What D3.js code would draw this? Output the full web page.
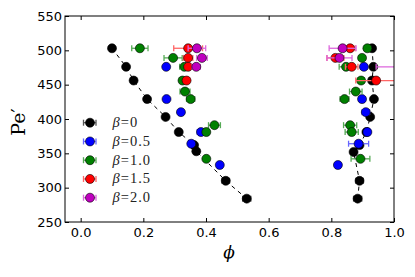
<!DOCTYPE html>
<html>
<head>
<meta charset="utf-8">
<script src="https://cdn.jsdelivr.net/npm/d3@7"></script>
<style>
  body { margin: 0; background: #fff; }
  svg { display: block; }
</style>
</head>
<body>
<div id="holder"></div>
<script>
// values: phi, Pe' and the phi error of each point
var blackLeftPhi = [0.100, 0.145, 0.169, 0.212, 0.271, 0.313, 0.362, 0.369, 0.463, 0.530];
var blackLeftPe  = [503, 476, 456, 429, 403, 381, 362, 353, 310, 284];
var blackLeftErr = [0.006, 0.006, 0.006, 0.006, 0.006, 0.006, 0.006, 0.006, 0.012, 0.013];
var blackRightPhi = [0.930, 0.934, 0.930, 0.936, 0.924, 0.912, 0.890, 0.871, 0.890, 0.884];
var blackRightPe  = [503, 476, 456, 429, 403, 381, 362, 352, 310, 284];
var blackRightErr = [0.006, 0.006, 0.006, 0.006, 0.006, 0.006, 0.006, 0.006, 0.012, 0.013];

var bluePhi = [0.273, 0.274, 0.320, 0.384, 0.353, 0.444, 0.904, 0.898, 0.910, 0.915, 0.887, 0.821];
var bluePe  = [476, 429, 410, 381, 364, 333, 476, 429, 410, 381, 364, 333];
var blueErr = [0.006, 0.006, 0.006, 0.012, 0.006, 0.006, 0.010, 0.010, 0.012, 0.008, 0.032, 0.008];

var greenPhi = [0.189, 0.295, 0.331, 0.325, 0.333, 0.351, 0.427, 0.401, 0.401,
                0.915, 0.898, 0.847, 0.895, 0.878, 0.842, 0.860, 0.865, 0.893];
var greenPe  = [503, 489, 476, 456, 440, 429, 391, 381, 342,
                503, 489, 476, 456, 440, 429, 391, 381, 342];
var greenErr = [0.026, 0.029, 0.015, 0.008, 0.016, 0.013, 0.019, 0.008, 0.008,
                0.010, 0.010, 0.022, 0.010, 0.020, 0.014, 0.021, 0.021, 0.030];

var redPhi = [0.343, 0.343, 0.343, 0.338, 0.860, 0.813, 0.865, 0.943];
var redPe  = [503, 489, 476, 456, 503, 489, 476, 456];
var redErr = [0.046, 0.015, 0.010, 0.008, 0.016, 0.027, 0.020, 0.065];

var purplePhi = [0.371, 0.387, 0.369, 0.836, 0.826, 1.060];
var purplePe  = [503, 489, 476, 503, 489, 476];
var purpleErr = [0.028, 0.017, 0.013, 0.043, 0.040, 0.117];

var betaLabels = ["0", "0.5", "1.0", "1.5", "2.0"];
var xTicks = [0.0, 0.2, 0.4, 0.6, 0.8, 1.0];
var yTicks = [250, 300, 350, 400, 450, 500, 550];

// define svg width, height, margins
var margin = {top: 16, right: 21, bottom: 55, left: 65},
    width = 415 - margin.left - margin.right,
    height = 277 - margin.top - margin.bottom;

var svg = d3.select("#holder")
            .append("svg")
            .attr("width", 415)
            .attr("height", 277);

var g = svg.append("g")
           .attr("transform", "translate(" + margin.left + "," + margin.top + ")");

var x = d3.scaleLinear().domain([-0.05, 1.0]).range([0, width]);
var y = d3.scaleLinear().domain([250, 550]).range([height, 0]);

// clip to the axes like matplotlib does
svg.append("defs").append("clipPath").attr("id", "clip")
   .append("rect").attr("width", width).attr("height", height);

// ticks pointing inward on all four sides
var tickFont = "'DejaVu Sans', sans-serif";
g.append("g")
 .attr("transform", "translate(0," + height + ")")
 .call(d3.axisBottom(x).tickValues(xTicks).tickFormat(d3.format(".1f")).tickSize(-4).tickPadding(6));
g.append("g")
 .call(d3.axisTop(x).tickValues(xTicks).tickFormat("").tickSize(-4));
g.append("g")
 .call(d3.axisLeft(y).tickValues(yTicks).tickSize(-4).tickPadding(3));
g.append("g")
 .attr("transform", "translate(" + width + ",0)")
 .call(d3.axisRight(y).tickValues(yTicks).tickFormat("").tickSize(-4));

g.selectAll(".domain").remove();
g.selectAll(".tick line").attr("stroke", "#000");
g.selectAll(".tick text")
 .attr("fill", "#000")
 .style("font-family", tickFont)
 .style("font-size", "13px");

var plot = g.append("g").attr("clip-path", "url(#clip)");

// dashed guide lines through the black points
var line = d3.line()
             .x(d => x(d[0]))
             .y(d => y(d[1]));
[[blackLeftPhi, blackLeftPe], [blackRightPhi, blackRightPe]].forEach(function(b) {
  var pts = d3.zip(b[0], b[1]).sort((a, c) => c[1] - a[1]);
  plot.append("path")
      .attr("d", line(pts))
      .attr("fill", "none")
      .attr("stroke", "#000")
      .attr("stroke-width", 1)
      .attr("stroke-dasharray", "4,4");
});

var series = [
  {color: "#000000", bar: "#555555", phi: blackLeftPhi.concat(blackRightPhi),
   pe: blackLeftPe.concat(blackRightPe), err: blackLeftErr.concat(blackRightErr)},
  {color: "#0000ff", bar: "#6666ff", phi: bluePhi, pe: bluePe, err: blueErr},
  {color: "#008000", bar: "#55aa55", phi: greenPhi, pe: greenPe, err: greenErr},
  {color: "#ff0000", bar: "#ff6666", phi: redPhi, pe: redPe, err: redErr},
  {color: "#bf00bf", bar: "#dd66dd", phi: purplePhi, pe: purplePe, err: purpleErr}
];

function drawErrorbar(sel, x0, x1, yy, col) {
  sel.append("line").attr("x1", x0).attr("x2", x1).attr("y1", yy).attr("y2", yy)
     .attr("stroke", col).attr("stroke-width", 1.3);
  [x0, x1].forEach(function(xc) {
    sel.append("line").attr("x1", xc).attr("x2", xc).attr("y1", yy - 3).attr("y2", yy + 3)
       .attr("stroke", col).attr("stroke-width", 1.3);
  });
}

series.forEach(function(s) {
  var sg = plot.append("g");
  s.phi.forEach(function(p, i) {
    drawErrorbar(sg, x(p - s.err[i]), x(p + s.err[i]), y(s.pe[i]), s.bar);
  });
  s.phi.forEach(function(p, i) {
    sg.append("circle")
      .attr("cx", x(p))
      .attr("cy", y(s.pe[i]))
      .attr("r", 4.5)
      .attr("fill", s.color)
      .attr("stroke", "#000")
      .attr("stroke-width", 0.6);
  });
});

// frame
g.append("rect")
 .attr("width", width)
 .attr("height", height)
 .attr("fill", "none")
 .attr("stroke", "#000")
 .attr("stroke-width", 1);

// legend
var legend = g.append("g");
series.forEach(function(s, i) {
  var ly = 106.7 + i * 18.75;
  drawErrorbar(legend, 18.5, 31, ly, s.bar);
  legend.append("circle")
        .attr("cx", 25).attr("cy", ly).attr("r", 4.5)
        .attr("fill", s.color).attr("stroke", "#000").attr("stroke-width", 0.6);
  var t = legend.append("text")
        .attr("x", 47.5).attr("y", ly + 4.5)
        .style("font-family", "'Liberation Serif', serif")
        .style("font-size", "14.5px")
        .style("letter-spacing", "1px")
        .attr("fill", "#222");
  t.append("tspan").style("font-style", "italic").text("β");
  t.append("tspan").text("=" + betaLabels[i]);
});

// axis labels
svg.append("text")
   .attr("transform", "translate(25,122) rotate(-90)")
   .attr("text-anchor", "middle")
   .style("font-family", "'DejaVu Serif', serif")
   .style("font-size", "19px")
   .text("Pe′");

svg.append("text")
   .attr("x", 229).attr("y", 258)
   .attr("text-anchor", "middle")
   .style("font-family", "'DejaVu Serif', serif")
   .style("font-style", "italic")
   .style("font-size", "17px")
   .text("ϕ");
</script>
</body>
</html>
